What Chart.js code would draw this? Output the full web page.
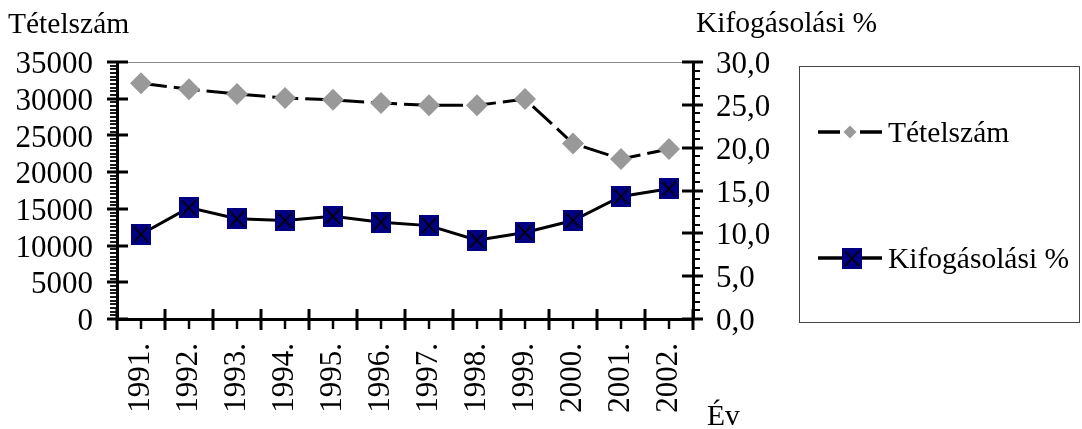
<!DOCTYPE html>
<html><head><meta charset="utf-8">
<script src="https://cdn.jsdelivr.net/npm/chart.js@4"></script>
<style>html,body{margin:0;padding:0;background:#fff;overflow:hidden}#wrap{width:1082px;height:429px;position:relative}</style>
</head><body><div id="wrap"><canvas id="c" width="1082" height="429"></canvas></div>
<script>
// ---- data ----
const categories = ['1991.','1992.','1993.','1994.','1995.','1996.','1997.','1998.','1999.','2000.','2001.','2002.'];
const tetelszam = [32100, 31300, 30650, 30100, 29850, 29400, 29100, 29100, 29950, 23900, 21800, 23150];
const kifogasolasi = [9.9, 13.0, 11.7, 11.5, 12.0, 11.3, 10.9, 9.2, 10.1, 11.5, 14.3, 15.2];
const leftTickValues = [0, 5000, 10000, 15000, 20000, 25000, 30000, 35000];
const rightTickLabels = ['0,0', '5,0', '10,0', '15,0', '20,0', '25,0', '30,0'];
const seriesNames = ['Tételszám', 'Kifogásolási %'];
const axisTitles = { left: 'Tételszám', right: 'Kifogásolási %', x: 'Év' };

const FONT = '"Liberation Serif", "Times New Roman", serif';
const FS = 29.5;     // titles / legend
const TFS = 31;      // tick labels

function squareMarker() {
  const c = document.createElement('canvas');
  c.width = 20; c.height = 21;
  const g = c.getContext('2d');
  g.fillStyle = '#000080';
  g.fillRect(0, 0, 20, 21);
  g.strokeStyle = '#000';
  g.lineWidth = 1.6;
  g.beginPath();
  g.moveTo(3, 3); g.lineTo(17, 18);
  g.moveTo(17, 3); g.lineTo(3, 18);
  g.stroke();
  return c;
}
const sq = squareMarker();

const decor = {
  id: 'decor',
  beforeDatasetsDraw(chart) {
    const { ctx, chartArea: a } = chart;
    ctx.save();
    ctx.strokeStyle = '#888';
    ctx.lineWidth = 1;
    ctx.beginPath();
    ctx.moveTo(a.left, a.top + 0.5);
    ctx.lineTo(a.right, a.top + 0.5);
    ctx.stroke();
    ctx.restore();
  },
  afterDraw(chart) {
    const { ctx, chartArea: a, scales } = chart;
    const x = scales.x, y = scales.y, y1 = scales.y1;
    ctx.save();
    ctx.strokeStyle = '#000';
    const line = (x0, y0, x1, y1_, w) => { ctx.lineWidth = w; ctx.beginPath(); ctx.moveTo(x0, y0); ctx.lineTo(x1, y1_); ctx.stroke(); };
    // left axis ticks (major + minor)
    const lmax = leftTickValues[leftTickValues.length - 1];
    const lstep = leftTickValues[1] - leftTickValues[0];
    for (let k = 0; k <= (lmax / lstep) * 10; k++) {
      const v = k * lstep / 10;
      const py = Math.round(y.getPixelForValue(v));
      if (k % 10 === 0) line(a.left - 10, py, a.left + 11, py, 3);
      else line(a.left - 7, py, a.left + 1, py, 1.8);
    }
    // right axis ticks
    for (let v = 0; v <= 30; v += 1) {
      const py = Math.round(y1.getPixelForValue(v));
      if (v % 5 === 0) line(a.right - 11, py, a.right + 10, py, 3);
      else line(a.right - 1, py, a.right + 7, py, 2);
    }
    // x axis ticks
    const n = categories.length;
    const w = x.getPixelForValue(1) - x.getPixelForValue(0);
    for (let i = 0; i < n; i++) {
      const cx = x.getPixelForValue(i);
      line(cx - w / 2, a.bottom - 10, cx - w / 2, a.bottom + 11, 3);
      line(cx, a.bottom, cx, a.bottom + 10, 2.5);
    }
    line(x.getPixelForValue(n - 1) + w / 2, a.bottom - 10, x.getPixelForValue(n - 1) + w / 2, a.bottom + 11, 3);

    // titles
    ctx.fillStyle = '#000';
    ctx.font = FS + 'px ' + FONT;
    ctx.textAlign = 'left';
    ctx.textBaseline = 'alphabetic';
    ctx.fillText(axisTitles.left, 8, 33);
    ctx.fillText(axisTitles.right, 696, 32);
    ctx.fillText(axisTitles.x, 707, 425);

    // legend
    ctx.strokeStyle = '#444';
    ctx.lineWidth = 1;
    ctx.strokeRect(799.5, 66.5, 280, 256);
    const ly = [132, 258];
    ctx.strokeStyle = '#000';
    ctx.lineWidth = 3.5;
    ctx.setLineDash([22, 20]);
    ctx.beginPath(); ctx.moveTo(818, ly[0]); ctx.lineTo(882, ly[0]); ctx.stroke();
    ctx.setLineDash([]);
    ctx.fillStyle = '#999999';
    ctx.beginPath();
    ctx.moveTo(850, ly[0] - 6.5); ctx.lineTo(856.5, ly[0]); ctx.lineTo(850, ly[0] + 6.5); ctx.lineTo(843.5, ly[0]);
    ctx.closePath(); ctx.fill();
    ctx.beginPath(); ctx.moveTo(818, ly[1]); ctx.lineTo(882, ly[1]); ctx.stroke();
    ctx.drawImage(sq, 842, ly[1] - 10);
    ctx.fillStyle = '#000';
    ctx.textBaseline = 'middle';
    ctx.fillText(seriesNames[0], 888, ly[0] + 2);
    ctx.fillText(seriesNames[1], 888, ly[1] + 2);
    ctx.restore();
  }
};

new Chart(document.getElementById('c'), {
  type: 'line',
  data: {
    labels: categories,
    datasets: [
      {
        label: seriesNames[0], data: tetelszam, yAxisID: 'y',
        borderColor: '#000', borderWidth: 3, borderDash: [26, 7], tension: 0, fill: false,
        pointStyle: 'rectRot', pointRadius: 11, pointBackgroundColor: '#999999',
        pointBorderColor: '#999999', pointBorderWidth: 0
      },
      {
        label: seriesNames[1], data: kifogasolasi, yAxisID: 'y1',
        borderColor: '#000', borderWidth: 3, tension: 0, fill: false,
        pointStyle: sq, pointRadius: 10, pointBorderWidth: 0
      }
    ]
  },
  options: {
    responsive: false, animation: false, devicePixelRatio: 1,
    layout: { padding: { left: 0, right: 289, top: 62, bottom: 0 } },
    plugins: { legend: { display: false }, tooltip: { enabled: false } },
    scales: {
      x: {
        type: 'category', offset: true,
        grid: { display: false, drawTicks: false, tickLength: 0 },
        border: { display: true, color: '#000', width: 3 },
        ticks: { color: '#000', font: { family: FONT, size: TFS }, minRotation: 90, maxRotation: 90, autoSkip: false, padding: 24 },
        afterFit(s) { s.height = 110; }
      },
      y: {
        position: 'left', min: 0, max: leftTickValues[leftTickValues.length - 1],
        afterBuildTicks(s) { s.ticks = leftTickValues.map(v => ({ value: v })); },
        grid: { display: false, drawTicks: false, tickLength: 0 },
        border: { display: true, color: '#000', width: 3 },
        ticks: { color: '#000', font: { family: FONT, size: TFS }, autoSkip: false, padding: 24, labelOffset: 3, callback: v => String(v) },
        afterFit(s) { s.width = 117; }
      },
      y1: {
        position: 'right', min: 0, max: 30,
        afterBuildTicks(s) { s.ticks = rightTickLabels.map((t, i) => ({ value: i * 5 })); },
        grid: { display: false, drawTicks: false, tickLength: 0 },
        border: { display: true, color: '#000', width: 3 },
        ticks: { color: '#000', font: { family: FONT, size: TFS }, autoSkip: false, padding: 23, labelOffset: 3, callback: (v, i) => rightTickLabels[i] },
        afterFit(s) { s.width = 100; }
      }
    }
  },
  plugins: [decor]
});
</script>
</body></html>
